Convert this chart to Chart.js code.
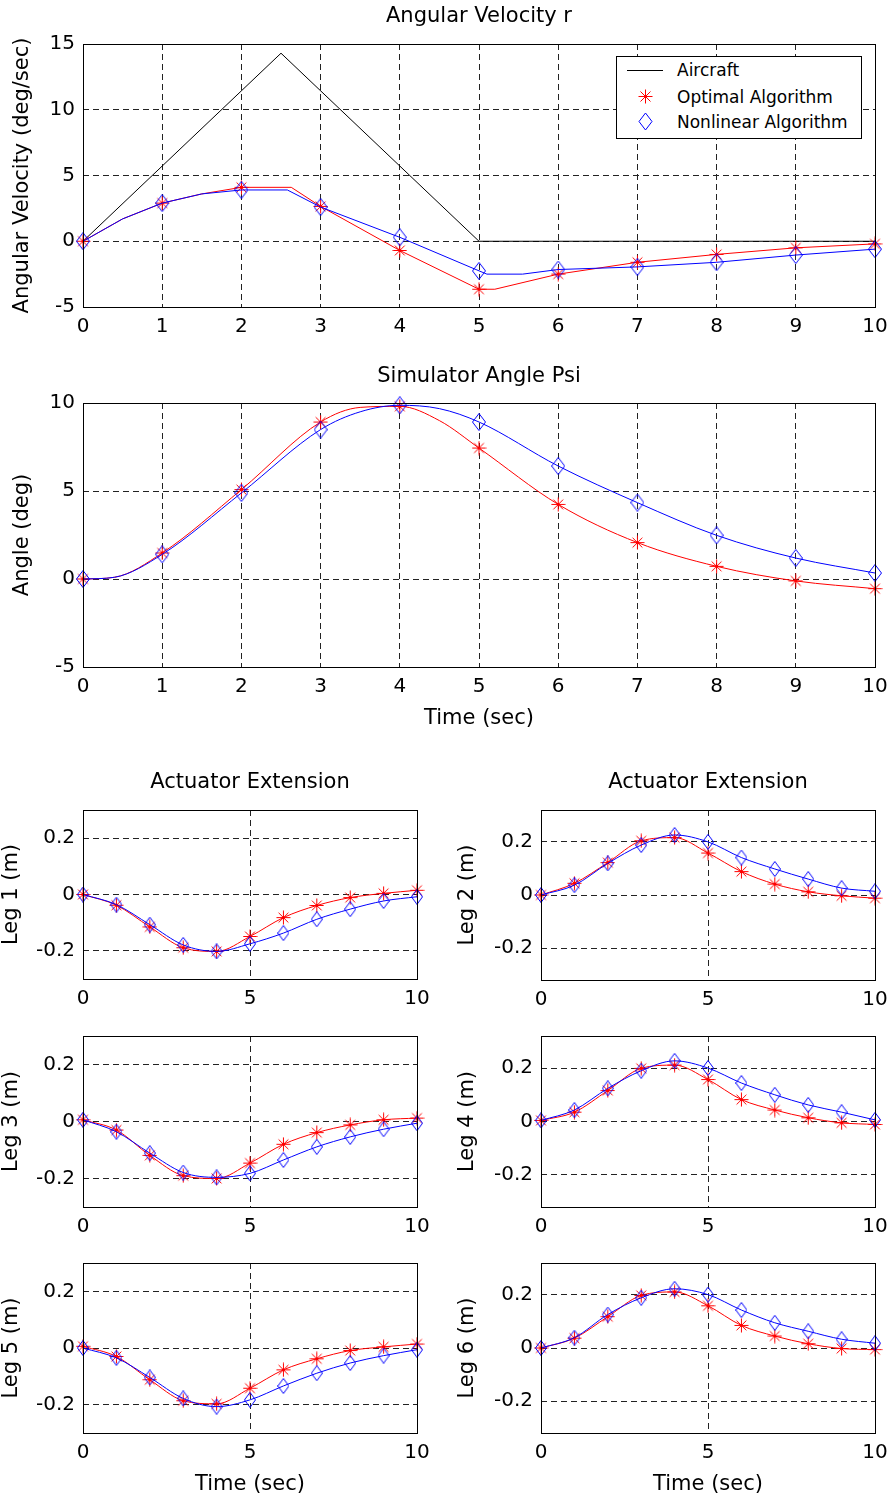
<!DOCTYPE html>
<html>
<head>
<meta charset="utf-8">
<title>Angular Velocity and Actuator Extension</title>
<script src="https://cdn.jsdelivr.net/npm/chart.js@4.4.1/dist/chart.umd.min.js"></script>
<style>
    html, body { margin: 0; padding: 0; background: #fff; }
    body { position: relative; width: 893px; height: 1500px; overflow: hidden; font-family: "DejaVu Sans", sans-serif; }
    canvas { position: absolute; }
    #legend { position: absolute; left: 616px; top: 56px; width: 246px; height: 83px; box-sizing: border-box;
              border: 1px solid #000; background: #fff; z-index: 2; }
    #legend svg { position: absolute; left: 0; top: 0; }
    #legend span { position: absolute; left: 60px; font-size: 17px; line-height: 20px; color: #000; white-space: nowrap; }
</style>
</head>
<body>
<div id="legend">
    <svg width="244" height="81">
        <line x1="10" y1="13.5" x2="46" y2="13.5" stroke="#000" stroke-width="1"/>
        <g stroke="#ff0000" stroke-width="1">
            <line x1="28.5" y1="32.5" x2="28.5" y2="46.5"/>
            <line x1="21.5" y1="39.5" x2="35.5" y2="39.5"/>
            <line x1="23.5" y1="34.5" x2="33.5" y2="44.5"/>
            <line x1="23.5" y1="44.5" x2="33.5" y2="34.5"/>
        </g>
        <polygon points="28.5,56 35,64.5 28.5,73 22,64.5" fill="none" stroke="#0000ff" stroke-width="1"/>
    </svg>
    <span style="top:3px">Aircraft</span>
    <span style="top:30px">Optimal Algorithm</span>
    <span style="top:55px">Nonlinear Algorithm</span>
</div>
<script>
// ---- tick values ----
const ticksTime = [0, 1, 2, 3, 4, 5, 6, 7, 8, 9, 10];
const ticksTimeLeg = [0, 5, 10];
const ticksVel = [-5, 0, 5, 10, 15];
const ticksPsi = [-5, 0, 5, 10];
const ticksLeg = [-0.2, 0, 0.2];

// ---- angular velocity r (deg/sec) ----
const aircraftT = [0, 2.5, 5, 10];
const aircraftR = [0, 14.3, 0, 0];
const optimalT = [0, 0.5, 1, 1.5, 2, 2.63, 3, 4, 5, 5.2, 6, 7, 8, 9, 10];
const optimalR = [0, 1.7, 2.9, 3.6, 4.1, 4.1, 2.65, -0.7, -3.65, -3.65, -2.5, -1.6, -1.0, -0.5, -0.2];
const nonlinearT = [0, 0.5, 1, 1.5, 2, 2.58, 3, 4, 5, 5.1, 5.55, 6, 7, 8, 9, 10];
const nonlinearR = [0, 1.7, 2.9, 3.6, 3.9, 3.9, 2.6, 0.3, -2.25, -2.5, -2.5, -2.15, -1.95, -1.6, -1.05, -0.6];

// ---- simulator angle psi (deg) ----
const psiT = [0, 0.4, 1, 2, 3, 3.5, 4, 4.5, 5, 6, 7, 8, 9, 10];
const psiOptimal = [0, 0.1, 1.48, 5.08, 8.92, 9.75, 9.81, 9.0, 7.44, 4.24, 2.07, 0.72, -0.11, -0.55];
const psiNonlinear = [0, 0.1, 1.4, 4.89, 8.49, 9.5, 9.87, 9.68, 8.92, 6.42, 4.34, 2.48, 1.19, 0.34];

// ---- actuator extension (m), sampled every second ----
const legT = [0, 1, 2, 3, 4, 5, 6, 7, 8, 9, 10];
const leg1Opt = [0, -0.038, -0.115, -0.189, -0.202, -0.149, -0.082, -0.039, -0.011, 0.004, 0.015];
const leg1Non = [0, -0.036, -0.107, -0.179, -0.202, -0.175, -0.137, -0.088, -0.052, -0.023, -0.008];
const leg2Opt = [0, 0.044, 0.122, 0.204, 0.216, 0.158, 0.088, 0.041, 0.012, -0.003, -0.012];
const leg2Non = [0, 0.037, 0.119, 0.188, 0.226, 0.2, 0.141, 0.098, 0.06, 0.026, 0.014];
const leg3Opt = [0.006, -0.03, -0.119, -0.19, -0.2, -0.146, -0.08, -0.039, -0.012, 0.006, 0.012];
const leg3Non = [0.006, -0.036, -0.111, -0.179, -0.196, -0.182, -0.135, -0.089, -0.054, -0.027, -0.006];
const leg4Opt = [0.004, 0.035, 0.116, 0.199, 0.211, 0.157, 0.082, 0.043, 0.014, -0.005, -0.011];
const leg4Non = [0.004, 0.043, 0.124, 0.19, 0.227, 0.2, 0.144, 0.1, 0.062, 0.035, 0.006];
const leg5Opt = [0.006, -0.03, -0.112, -0.186, -0.197, -0.142, -0.077, -0.038, -0.009, 0.004, 0.014];
const leg5Non = [0, -0.035, -0.104, -0.178, -0.207, -0.183, -0.134, -0.089, -0.053, -0.027, -0.006];
const leg6Opt = [0, 0.037, 0.118, 0.198, 0.211, 0.159, 0.085, 0.045, 0.016, -0.002, -0.006];
const leg6Non = [0, 0.039, 0.126, 0.189, 0.223, 0.201, 0.143, 0.095, 0.063, 0.033, 0.018];

const FONT = "'DejaVu Sans', sans-serif";
const RED = '#ff0000';
const BLUE = '#0000ff';
Chart.defaults.font.family = FONT;
Chart.defaults.color = '#000';

// Marker images (MATLAB style '*' and diamond)
function makeAsterisk(s) {
    const c = document.createElement('canvas');
    c.width = s; c.height = s;
    const g = c.getContext('2d');
    const m = s / 2, r = s / 2 - 0.5, d = r * 0.7;
    g.strokeStyle = RED;
    g.lineWidth = 1;
    g.beginPath();
    g.moveTo(m, m - r); g.lineTo(m, m + r);
    g.moveTo(m - r, m); g.lineTo(m + r, m);
    g.moveTo(m - d, m - d); g.lineTo(m + d, m + d);
    g.moveTo(m - d, m + d); g.lineTo(m + d, m - d);
    g.stroke();
    return c;
}

function makeDiamond(w, h) {
    const c = document.createElement('canvas');
    c.width = w; c.height = h;
    const g = c.getContext('2d');
    g.strokeStyle = BLUE;
    g.lineWidth = 1;
    g.beginPath();
    g.moveTo(w / 2, 0.5);
    g.lineTo(w - 0.5, h / 2);
    g.lineTo(w / 2, h - 0.5);
    g.lineTo(0.5, h / 2);
    g.closePath();
    g.stroke();
    return c;
}

const starMark = makeAsterisk(15);
const diamondBig = makeDiamond(14, 18);
const diamondSmall = makeDiamond(12, 16);

// Build a dataset; markers only at whole seconds
function seriesOf(label, times, values, color, marker) {
    return {
        label: label,
        data: times.map((t, i) => ({ x: t, y: values[i] })),
        borderColor: color,
        backgroundColor: color,
        borderWidth: 1,
        pointStyle: marker || 'circle',
        pointRadius: c => (marker && c.raw && Number.isInteger(c.raw.x)) ? 7 : 0,
        clip: false
    };
}

// Solid box round the plot area
const axesBox = {
    id: 'axesBox',
    afterDraw(chart) {
        const a = chart.chartArea;
        const ctx = chart.ctx;
        ctx.save();
        ctx.strokeStyle = '#000';
        ctx.lineWidth = 1;
        ctx.setLineDash([]);
        ctx.strokeRect(Math.round(a.left) + 0.5, Math.round(a.top) + 0.5,
            Math.round(a.right - a.left), Math.round(a.bottom - a.top));
        ctx.restore();
    }
};

function makePanel(p) {
    const left = p.plot.l - p.yw;
    const top = p.plot.t - p.th;
    const width = p.plot.r + p.pr - left;
    const height = p.plot.b + p.bh - top;
    const canvas = document.createElement('canvas');
    canvas.width = width;
    canvas.height = height;
    canvas.style.left = left + 'px';
    canvas.style.top = top + 'px';
    document.body.appendChild(canvas);

    const lh = 21 * 1.2;
    const titleFont = { family: FONT, size: 21, weight: 'normal' };
    const tickFont = { family: FONT, size: 20, weight: 'normal' };
    let titleOpts = { display: false };
    if (p.title) {
        const padTop = p.titleY - top - lh / 2;
        titleOpts = {
            display: true, text: p.title, fullSize: false, color: '#000', font: titleFont,
            padding: { top: padTop, bottom: p.th - padTop - lh }
        };
    }

    const gridOpts = { color: '#222', lineWidth: 1, drawTicks: false, borderDash: [6, 4] };
    const borderOpts = { display: false, dash: [6, 4] };

    new Chart(canvas, {
        type: 'line',
        data: { datasets: p.datasets },
        options: {
            responsive: false,
            animation: false,
            events: [],
            elements: { line: { tension: 0, cubicInterpolationMode: p.smooth ? 'monotone' : 'default' } },
            layout: { padding: { top: p.title ? 0 : p.th, right: p.pr, bottom: 0, left: 0 } },
            plugins: {
                legend: { display: false },
                tooltip: { enabled: false },
                title: titleOpts
            },
            scales: {
                x: {
                    type: 'linear', min: 0, max: 10,
                    grid: gridOpts, border: borderOpts,
                    afterBuildTicks: s => { s.ticks = p.xTicks.map(v => ({ value: v })); },
                    afterFit: s => { s.height = p.bh; s.paddingLeft = 0; s.paddingRight = 0; },
                    ticks: { font: tickFont, color: '#000', padding: 8, maxRotation: 0, autoSkip: false,
                             callback: v => String(v) },
                    title: p.xTitle ? {
                        display: true, text: p.xTitle, font: titleFont, color: '#000',
                        padding: { top: 0, bottom: (p.plot.b + p.bh) - p.xTitleY - lh / 2 }
                    } : { display: false }
                },
                y: {
                    type: 'linear', min: p.yMin, max: p.yMax,
                    grid: gridOpts, border: borderOpts,
                    afterBuildTicks: s => { s.ticks = p.yTicks.map(v => ({ value: v })); },
                    afterFit: s => { s.width = p.yw; s.paddingTop = 0; s.paddingBottom = 0; },
                    ticks: { font: tickFont, color: '#000', padding: 8, autoSkip: false,
                             callback: v => String(v) },
                    title: {
                        display: true, text: p.yTitle, font: titleFont, color: '#000',
                        padding: { top: p.yTitleX - left - lh / 2, bottom: 0 }
                    }
                }
            }
        },
        plugins: [axesBox]
    });
}

function legPanel(col, row, legNo, opt, non) {
    const rows = [
        { t: 810, b: col ? 980 : 979, th: 70, bh: col ? 30 : 31 },
        { t: 1036, b: 1207, th: 26, bh: 33 },
        { t: 1263, b: 1433, th: 23, bh: 67 }
    ];
    const r = rows[row];
    const lim = col ? 0.32 : 0.3;
    return {
        plot: { l: col ? 541 : 83, t: r.t, r: col ? 875 : 417, b: r.b },
        yw: col ? 95 : 83, th: r.th, pr: 18, bh: r.bh,
        title: row === 0 ? 'Actuator Extension' : null, titleY: 783,
        xTitle: row === 2 ? 'Time (sec)' : null, xTitleY: 1485,
        yTitle: 'Leg ' + legNo + ' (m)', yTitleX: col ? 468 : 12,
        yMin: -lim, yMax: lim, yTicks: ticksLeg, xTicks: ticksTimeLeg, smooth: true,
        datasets: [
            seriesOf('Nonlinear Algorithm', legT, non, BLUE, diamondSmall),
            seriesOf('Optimal Algorithm', legT, opt, RED, starMark)
        ]
    };
}

const panels = [
    {
        plot: { l: 83, t: 44, r: 875, b: 307 }, yw: 83, th: 44, pr: 18, bh: 33,
        title: 'Angular Velocity r', titleY: 17,
        yTitle: 'Angular Velocity (deg/sec)', yTitleX: 23,
        yMin: -5, yMax: 15, yTicks: ticksVel, xTicks: ticksTime, smooth: false,
        datasets: [
            seriesOf('Nonlinear Algorithm', nonlinearT, nonlinearR, BLUE, diamondBig),
            seriesOf('Optimal Algorithm', optimalT, optimalR, RED, starMark),
            seriesOf('Aircraft', aircraftT, aircraftR, '#000', null)
        ]
    },
    {
        plot: { l: 83, t: 403, r: 875, b: 667 }, yw: 83, th: 63, pr: 18, bh: 63,
        title: 'Simulator Angle Psi', titleY: 377,
        xTitle: 'Time (sec)', xTitleY: 719,
        yTitle: 'Angle (deg)', yTitleX: 23,
        yMin: -5, yMax: 10, yTicks: ticksPsi, xTicks: ticksTime, smooth: true,
        datasets: [
            seriesOf('Nonlinear Algorithm', psiT, psiNonlinear, BLUE, diamondBig),
            seriesOf('Optimal Algorithm', psiT, psiOptimal, RED, starMark)
        ]
    },
    legPanel(0, 0, 1, leg1Opt, leg1Non),
    legPanel(1, 0, 2, leg2Opt, leg2Non),
    legPanel(0, 1, 3, leg3Opt, leg3Non),
    legPanel(1, 1, 4, leg4Opt, leg4Non),
    legPanel(0, 2, 5, leg5Opt, leg5Non),
    legPanel(1, 2, 6, leg6Opt, leg6Non)
];

panels.forEach(makePanel);
</script>
</body>
</html>
